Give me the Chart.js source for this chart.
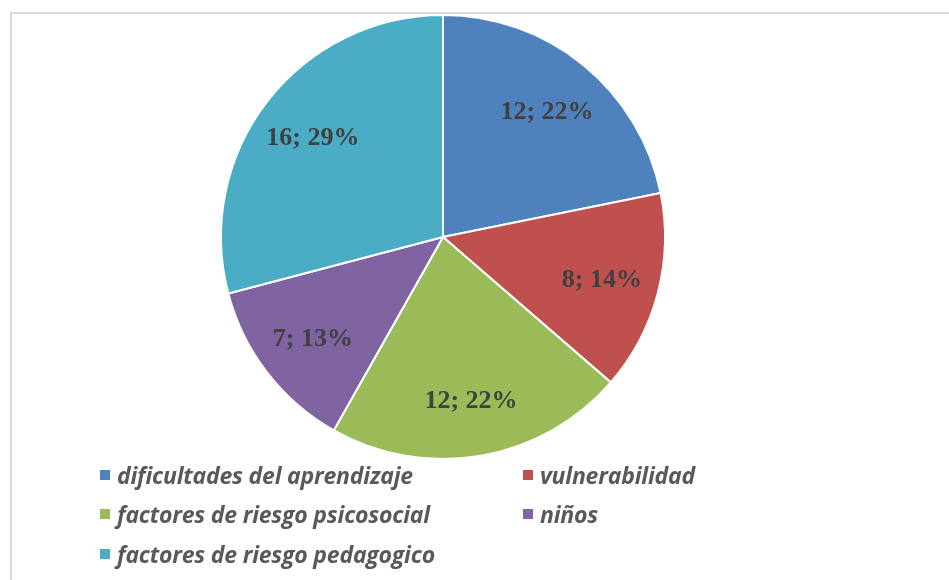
<!DOCTYPE html>
<html>
<head>
<meta charset="utf-8">
<script src="https://cdn.jsdelivr.net/npm/chart.js@4.4.1/dist/chart.umd.min.js"></script>
<style>
  html, body { margin: 0; padding: 0; background: #ffffff; }
  body { width: 949px; height: 580px; position: relative; overflow: hidden; }
  #frame { position: absolute; left: 10px; top: 12px; width: 960px; height: 600px;
           border: 2px solid #d9d9d9; box-sizing: border-box; }
  #wrap { position: absolute; left: 0; top: 14px; width: 886px; height: 446px; }
  #legend { position: absolute; left: 100px; top: 455px; width: 720px;
            display: grid; grid-template-columns: 423px 280px; row-gap: 0; }
  .item { display: flex; align-items: center; height: 39.5px;
          font-family: "Open Sans", "Noto Sans", sans-serif; font-style: italic; font-weight: 700;
          font-size: 23px; letter-spacing: -0.2px; color: #595959; white-space: nowrap; }
  .sw { width: 10px; height: 10px; margin-right: 7px; flex: none; }
</style>
</head>
<body>
<div id="frame"></div>
<div id="wrap"><canvas id="c"></canvas></div>
<div id="legend"></div>
<script>
const categories = [
  "dificultades del aprendizaje",
  "vulnerabilidad",
  "factores de riesgo psicosocial",
  "niños",
  "factores de riesgo pedagogico"
];
const counts = [12, 8, 12, 7, 16];
const percentLabels = ["22%", "14%", "22%", "13%", "29%"];
const colors = ["#4F81BD", "#C0504D", "#9BBB59", "#8064A2", "#4BACC6"];

const LABEL_FONT = 'bold 26px "Liberation Serif"';

const labelPlugin = {
  id: 'sliceLabels',
  afterDatasetsDraw(chart) {
    const ctx = chart.ctx;
    const meta = chart.getDatasetMeta(0);
    ctx.save();
    ctx.font = LABEL_FONT + ', "Times New Roman", serif';
    ctx.fillStyle = '#404040';
    ctx.textAlign = 'center';
    ctx.textBaseline = 'middle';
    meta.data.forEach((arc, i) => {
      const p = arc.getProps(['x', 'y', 'startAngle', 'endAngle', 'outerRadius'], true);
      const mid = (p.startAngle + p.endAngle) / 2;
      const r = p.outerRadius * 0.74;
      const x = p.x + Math.cos(mid) * r;
      const y = p.y + Math.sin(mid) * r;
      ctx.fillText(counts[i] + '; ' + percentLabels[i], x, y + 2);
    });
    ctx.restore();
  }
};

function build() {
  const chart = new Chart(document.getElementById('c'), {
    type: 'pie',
    data: {
      labels: categories,
      datasets: [{
        data: counts,
        backgroundColor: colors,
        borderColor: '#ffffff',
        borderWidth: 2
      }]
    },
    options: {
      responsive: true,
      maintainAspectRatio: false,
      animation: false,
      layout: { padding: 0 },
      plugins: {
        legend: { display: false },
        tooltip: { enabled: false }
      }
    },
    plugins: [labelPlugin]
  });

  const legendEl = document.getElementById('legend');
  chart.data.labels.forEach((lab, i) => {
    const item = document.createElement('div');
    item.className = 'item';
    const sw = document.createElement('span');
    sw.className = 'sw';
    sw.style.background = chart.data.datasets[0].backgroundColor[i];
    const t = document.createElement('span');
    t.textContent = lab;
    item.appendChild(sw);
    item.appendChild(t);
    legendEl.appendChild(item);
  });
}

Promise.all([
  document.fonts.load(LABEL_FONT),
  document.fonts.load('italic 700 23px "Open Sans"')
]).then(build, build);
</script>
</body>
</html>
